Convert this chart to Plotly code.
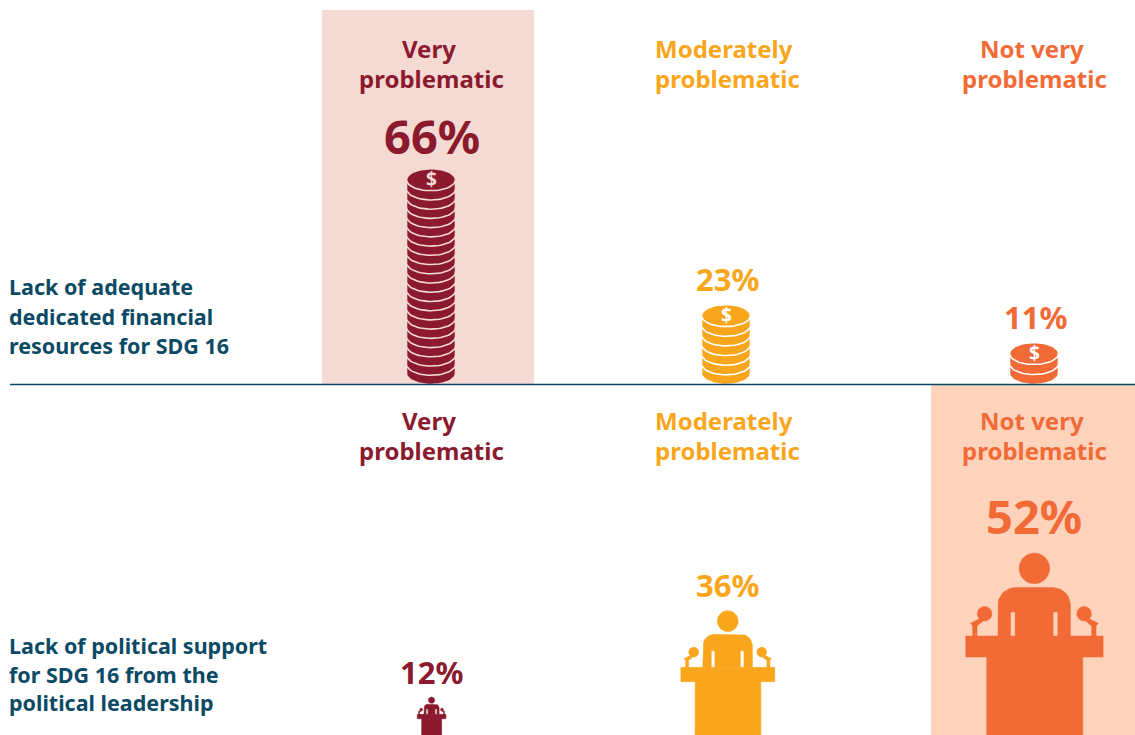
import math
import plotly.graph_objects as go

# Survey results, in percent of respondents
severity_levels = ["Very problematic", "Moderately problematic", "Not very problematic"]
finance_values = [66, 23, 11]
political_values = [12, 36, 52]
finance_title = ["Lack of adequate", "dedicated financial", "resources for SDG 16"]
political_title = ["Lack of political support", "for SDG 16 from the", "political leadership"]

level_lines = [["Very", "problematic"], ["Moderately", "problematic"], ["Not very", "problematic"]]
level_colors = ["#8B1A2E", "#F9A61C", "#F26A36"]
NAVY = "#0B4A64"
PINK = "#F5D9D3"
PEACH = "#FDD3BC"
FONT = "Noto Sans"

# Canvas and scales
WIDTH, HEIGHT = 1135, 735
SPLIT = 384.5
coin_x = [431, 726, 1034]
podium_x = [431.5, 727.5, 1034]
coin_px = 3.16      # pixels per percent, upper panel
coin_floor = -2.28  # value at the foot of the upper panel
podium_px = 3.6     # pixels per percent, lower panel
podium_floor = 1.45 # value at the foot of the lower panel
PCT_PER_COIN = 3


def arc(cx, cy, rx, ry, start, end, steps=28):
    return [(cx + rx * math.cos(math.radians(start + (end - start) * i / steps)),
             cy + ry * math.sin(math.radians(start + (end - start) * i / steps)))
            for i in range(steps + 1)]


def add_poly(fig, pts, color, yaxis, stroke=None, stroke_w=0):
    xs = [p[0] for p in pts] + [pts[0][0]]
    ys = [p[1] for p in pts] + [pts[0][1]]
    fig.add_trace(go.Scatter(
        x=xs, y=ys, xaxis="x", yaxis=yaxis, mode="lines", fill="toself",
        fillcolor=color, hoverinfo="skip", showlegend=False,
        line=dict(color=stroke if stroke else color, width=stroke_w),
    ))


def coin_stack(fig, cx, value, color, backdrop):
    """Stack from the panel foot up to the value, one coin per three points."""
    count = int(value // PCT_PER_COIN)
    rx = 24.5
    ry = 11 / coin_px
    step = (value - coin_floor - 2 * ry) / (count - 1)
    for i in range(count - 1):
        bottom = coin_floor + ry + i * step
        top = bottom + step
        pts = arc(cx, top, rx, ry, 180, 0) + arc(cx, bottom, rx, ry, 0, -180)
        add_poly(fig, pts, color, "y", backdrop, 1.6)
    face_y = value - ry
    add_poly(fig, arc(cx, face_y, rx, ry, 0, 360, 60), color, "y", backdrop, 1.6)
    return face_y


def podium(fig, cx, value, color, backdrop):
    """Speaker at a lectern whose head reaches the value on the axis."""
    scale = (value - podium_floor) * podium_px  # icon height in pixels

    def pt(u, v):
        return (cx + u * scale, podium_floor + v * scale / podium_px)

    def poly(coords, fill=color):
        add_poly(fig, [pt(u, v) for u, v in coords], fill, "y2", stroke_w=0.5)

    def ring(u, v, r):
        return [(u + r * math.cos(math.radians(a)), v + r * math.sin(math.radians(a)))
                for a in range(0, 360, 8)]

    # geometry in units of icon height, origin at the base centre
    poly(ring(0.002, 0.9155, 0.084))
    r = 0.095
    body = [(-0.198, 0.544)] + [(-0.198 + r + r * math.cos(math.radians(a)), 0.81 - r + r * math.sin(math.radians(a)))
                                for a in range(180, 80, -10)]
    body += [(0.2 - r + r * math.cos(math.radians(a)), 0.81 - r + r * math.sin(math.radians(a)))
             for a in range(90, -10, -10)]
    body += [(0.2, 0.544)]
    poly(body)
    for u0, u1 in [(-0.126, -0.106), (0.108, 0.128)]:
        poly([(u0, 0.544), (u0, 0.673), (u1, 0.673), (u1, 0.544)], backdrop)
    # lectern: desk and pedestal as one outline
    poly([(-0.26, 0), (-0.26, 0.4286), (-0.375, 0.4286), (-0.375, 0.544),
          (0.38, 0.544), (0.38, 0.4286), (0.268, 0.4286), (0.268, 0)])
    # microphones either side of the speaker
    stem = [(0.3516, 0.6136), (0.339, 0.599), (0.339, 0.544), (0.315, 0.544),
            (0.315, 0.599), (0.282, 0.626), (0.300, 0.639)]
    for side in (-1, 1):
        offset = 0.002
        poly([(offset + side * u, v) for u, v in ring(0.2735, 0.6665, 0.04)])
        poly([(offset + side * u, v) for u, v in stem])


def label(text, x, y, color, size, yanchor="middle", xanchor="center", xref="x", yref="paper",
          yshift=0, xshift=0):
    return dict(text=text, x=x, y=y, xref=xref, yref=yref, showarrow=False,
                xanchor=xanchor, yanchor=yanchor, yshift=yshift, xshift=xshift, align=xanchor,
                font=dict(family=FONT, size=size, color=color, weight="bold"))


def from_top(px):
    return 1 - px / HEIGHT


fig = go.Figure()
annotations = []

# Upper panel: coins
for i, value in enumerate(finance_values):
    backdrop = PINK if i == 0 else "#FFFFFF"
    face_y = coin_stack(fig, coin_x[i], value, level_colors[i], backdrop)
    annotations.append(dict(text="$", x=coin_x[i], y=face_y, xref="x", yref="y", showarrow=False,
                            yshift=1, font=dict(family=FONT, size=19, color=backdrop, weight="bold")))
    big = value == max(finance_values)
    annotations.append(label(f"{value}%", coin_x[i], value, level_colors[i],
                             47 if big else 31, "bottom", yref="y",
                             yshift=-1 if big else 2.5, xshift=1))

# Lower panel: lecterns
for i, value in enumerate(political_values):
    backdrop = PEACH if i == 2 else "#FFFFFF"
    podium(fig, podium_x[i], value, level_colors[i], backdrop)
    big = value == max(political_values)
    annotations.append(label(f"{value}%", podium_x[i], value, level_colors[i],
                             47 if big else 31, "bottom", yref="y2", yshift=3 if big else 2.5))

# Severity headings above each column
for i, lines in enumerate(level_lines):
    for j, line in enumerate(lines):
        xshift = -2 if j == 0 else (1 if i == 1 else 0)
        for y in ((48.5, 78.5)[j], (421, 450)[j]):
            annotations.append(label(line, coin_x[i], from_top(y), level_colors[i], 24, xshift=xshift))

# Row titles on the left
for line, y in zip(finance_title, (287, 316, 345)):
    annotations.append(label(line, 7, from_top(y), NAVY, 21.5, xanchor="left"))
for line, y in zip(political_title, (645, 674, 702)):
    annotations.append(label(line, 7, from_top(y), NAVY, 21.5, xanchor="left"))

shapes = [
    dict(type="rect", xref="x", yref="paper", x0=322, x1=534, y0=from_top(SPLIT), y1=from_top(10),
         fillcolor=PINK, line_width=0, layer="below"),
    dict(type="rect", xref="x", yref="paper", x0=931, x1=1135, y0=0, y1=from_top(SPLIT),
         fillcolor=PEACH, line_width=0, layer="below"),
    dict(type="line", xref="x", yref="paper", x0=10, x1=1135, y0=from_top(SPLIT), y1=from_top(SPLIT),
         line=dict(color=NAVY, width=1.5), layer="above"),
]

split_frac = from_top(SPLIT)
fig.update_layout(
    width=WIDTH, height=HEIGHT, autosize=False,
    margin=dict(l=0, r=0, t=0, b=0),
    paper_bgcolor="#FFFFFF", plot_bgcolor="rgba(0,0,0,0)",
    showlegend=False, annotations=annotations, shapes=shapes,
    xaxis=dict(range=[0, WIDTH], visible=False, fixedrange=True, domain=[0, 1]),
    yaxis=dict(domain=[split_frac, 1], range=[coin_floor, coin_floor + SPLIT / coin_px],
               visible=False, fixedrange=True),
    yaxis2=dict(domain=[0, split_frac],
                range=[podium_floor, podium_floor + (HEIGHT - SPLIT) / podium_px],
                visible=False, fixedrange=True, anchor="x"),
)

fig.write_html("out.html", config={"displayModeBar": False})
